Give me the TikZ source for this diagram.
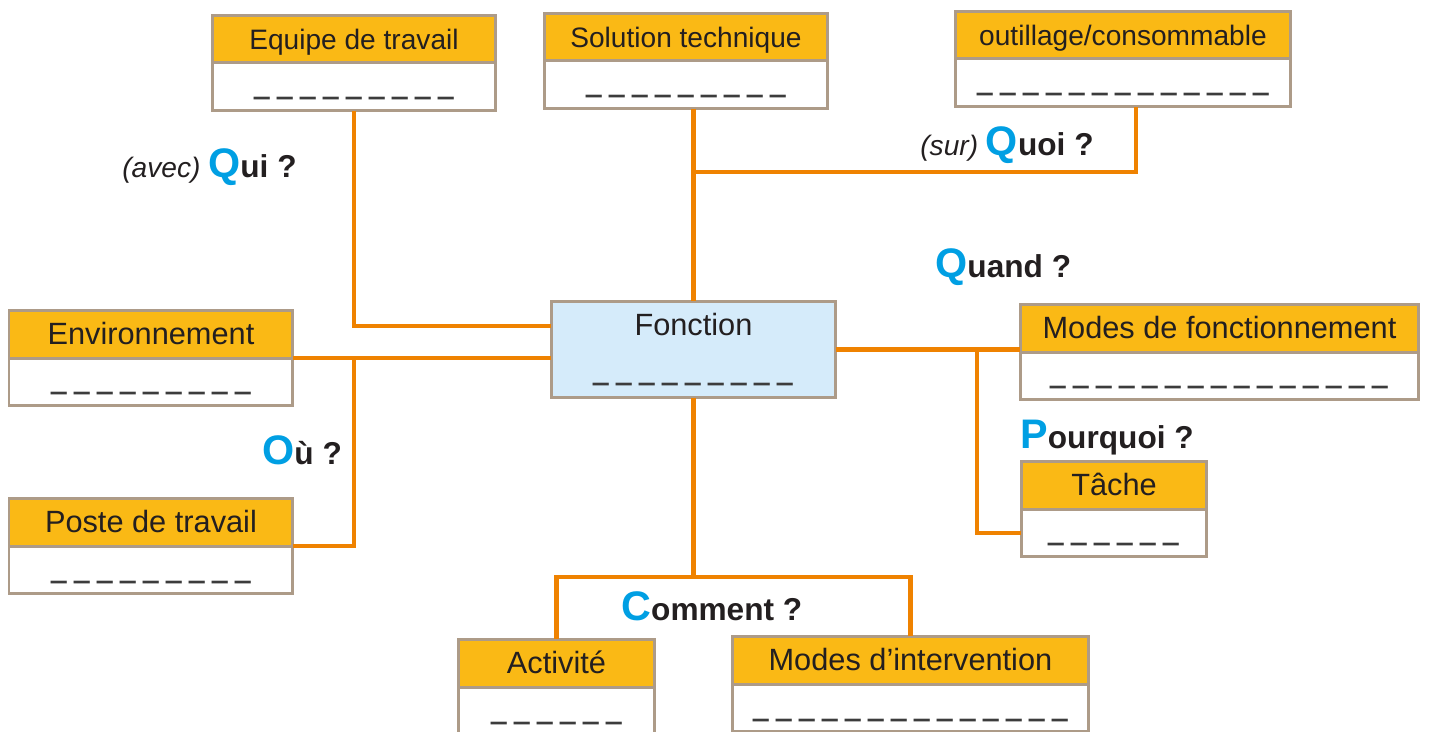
\documentclass[tikz,border=0pt]{standalone}
\usepackage{fontspec}
\setmainfont{Liberation Sans}
\newfontfamily\blankfont[FakeStretch=0.66]{Liberation Sans}
\usepackage{xcolor}
\definecolor{colorHead}{HTML}{FAB915}
\definecolor{colorBorder}{HTML}{AD9B88}
\definecolor{colorLink}{HTML}{EF8200}
\definecolor{colorFonction}{HTML}{D5EBFA}
\definecolor{colorQ}{HTML}{009FE3}
\definecolor{colorText}{HTML}{231F20}
\definecolor{colorBlank}{HTML}{3C3C3C}
\usetikzlibrary{positioning}
\newcommand{\blanks}[1]{{\color{colorBlank}\blankfont\fontsize{24}{19}\selectfont\_\foreach \k in {2,...,#1}{\hspace{4.3pt}\_}}}
\newcommand{\question}[2]{{\color{colorQ}\fontsize{23.5}{25}\selectfont\bfseries #1}{\fontsize{18}{21}\selectfont\bfseries #2}}
\tikzset{
  head/.style={draw=colorBorder, fill=colorHead, line width=0.06cm, outer sep=0pt, inner sep=0pt, minimum height=0.96cm, text height=0.42cm, text depth=0cm, text=colorText, font=\fontsize{17.5}{21}\selectfont, anchor=north west},
  headtop/.style={head, font=\fontsize{16}{19}\selectfont},
  blank/.style={draw=colorBorder, fill=white, line width=0.06cm, outer sep=0pt, inner sep=0pt, minimum height=0.96cm, text height=0.58cm, text depth=0.38cm},
  link/.style={draw=colorLink, line width=0.09cm},
  qlabel/.style={anchor=base west, inner sep=0pt, text=colorText, font=\fontsize{16}{19}\selectfont}
}

\begin{document}
\begin{tikzpicture}[x=0.02cm, y=-0.02cm, fonction/.style={draw=colorBorder, fill=colorFonction, line width=0.06cm, outer sep=0pt, anchor=north west, minimum width=5.7cm, minimum height=1.94cm, align=center, text=colorText, font=\fontsize{17.5}{21}\selectfont}]
\useasboundingbox (0,0) rectangle (1429,731);
\node[fonction] (fonction) at (551,301) {Fonction\\[2.4pt]\blanks{9}};
\node[headtop, minimum width=5.68cm] (equipeH) at (212,15) {Equipe de travail};
\node[blank, minimum width=5.68cm, below=0pt of equipeH] (equipeB) {\blanks{9}};
\node[headtop, minimum width=5.68cm] (solutionH) at (544,13) {Solution technique};
\node[blank, minimum width=5.68cm, below=0pt of solutionH] (solutionB) {\blanks{9}};
\node[headtop, minimum width=6.72cm] (outilH) at (955,11) {outillage/consommable};
\node[blank, minimum width=6.72cm, below=0pt of outilH] (outilB) {\blanks{13}};
\node[head, minimum width=5.68cm] (envH) at (9,310) {Environnement};
\node[blank, minimum width=5.68cm, below=0pt of envH] (envB) {\blanks{9}};
\node[head, minimum width=5.68cm] (posteH) at (9,498) {Poste de travail};
\node[blank, minimum width=5.68cm, below=0pt of posteH] (posteB) {\blanks{9}};
\node[head, minimum width=7.98cm] (modesFH) at (1020,304) {Modes de fonctionnement};
\node[blank, minimum width=7.98cm, below=0pt of modesFH] (modesFB) {\blanks{15}};
\node[head, minimum width=3.72cm] (tacheH) at (1021,461) {Tâche};
\node[blank, minimum width=3.72cm, below=0pt of tacheH] (tacheB) {\blanks{6}};
\node[head, minimum width=3.94cm] (activiteH) at (458,639) {Activité};
\node[blank, minimum width=3.94cm, below=0pt of activiteH] (activiteB) {\blanks{6}};
\node[head, minimum width=7.14cm] (modesIH) at (732,636) {Modes d’intervention};
\node[blank, minimum width=7.14cm, below=0pt of modesIH] (modesIB) {\blanks{14}};
\node[qlabel] (qui) at (122,177) {\textit{(avec)} \question{Q}{ui ?}};
\node[qlabel] (quoi) at (920,155) {\textit{(sur)} \question{Q}{uoi ?}};
\node[qlabel] (quand) at (935,277) {\question{Q}{uand ?}};
\node[qlabel] (ou) at (262,464) {\question{O}{ù ?}};
\node[qlabel] (pourquoi) at (1020,448) {\question{P}{ourquoi ?}};
\node[qlabel] (comment) at (621,620) {\question{C}{omment ?}};
\coordinate (jquoi) at ([yshift=2.58cm]fonction.north);
\coordinate (jcomment) at ([yshift=-3.58cm]fonction.south);
\draw[link] (equipeB.south) |- ([yshift=-0.5cm]fonction.north west);
\draw[link] (solutionB.south -| fonction.north) -- (fonction.north);
\draw[link] (jquoi) -| ([xshift=0.26cm]outilB.south);
\draw[link] (envB.north east) -- (envB.north east -| fonction.west);
\draw[link] (envB.north east -| equipeB.south) |- (posteB.north east);
\draw[link] (fonction.east) -- (fonction.east -| modesFH.west);
\draw[link] ([xshift=2.82cm]fonction.east) |- (tacheB.west);
\draw[link] (fonction.south) -- (jcomment);
\draw[link] (activiteH.north) |- (jcomment) -| (modesIH.north);
\end{tikzpicture}
\end{document}
